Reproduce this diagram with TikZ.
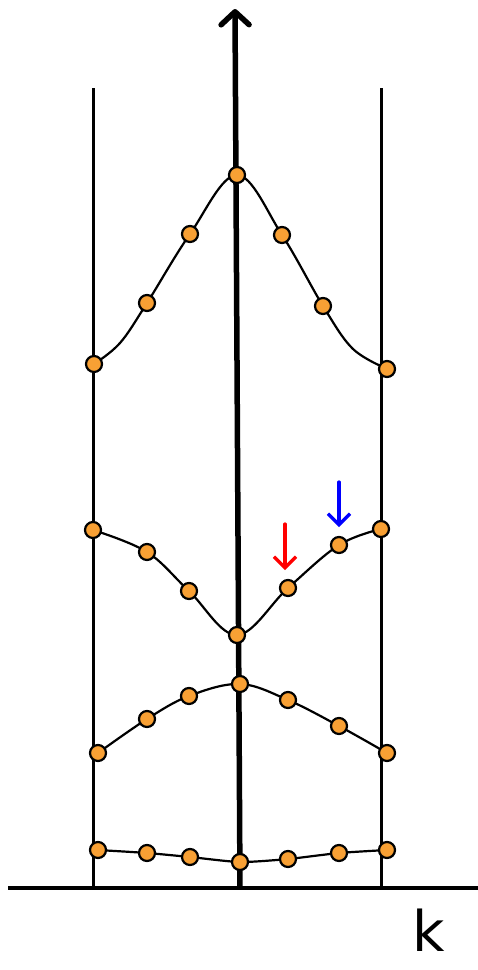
\documentclass[tikz,border=0pt]{standalone}
\usepackage{fontspec}
\newfontfamily\klabel{DejaVu Sans}
\usetikzlibrary{arrows.meta}
\definecolor{dotorange}{RGB}{248,160,52}
\tikzset{
  dot/.style={circle,draw=black,line width=2.2pt,fill=dotorange,inner sep=0pt,minimum size=16pt},
  band/.style={line width=2.2pt,smooth,tension=0.6},
  zone/.style={line width=3pt},
  marker/.style={line width=3.2pt,-{Straight Barb[length=11pt,width=22pt,line width=3.2pt]}},
}
\begin{document}
\begin{tikzpicture}[x=1pt,y=-1pt,line cap=round]
\useasboundingbox (0,0) rectangle (478,970);
% zone boundaries and axes
\coordinate (lt) at (93,88); \coordinate (lb) at (93,888);
\coordinate (rt) at (381,88); \coordinate (rb) at (381,888);
\coordinate (hx0) at (8,888); \coordinate (hx1) at (478,888);
\coordinate (ax0) at (240,888); \coordinate (ax1) at (235,9);
\draw[zone,line cap=butt] (lt) -- (lb);
\draw[zone,line cap=butt] (rt) -- (rb);
\draw[line width=4pt,line cap=butt] (hx0) -- (hx1);
\draw[line width=5.5pt,line cap=butt,-{Straight Barb[length=13pt,width=28pt,line width=5.5pt,round]}] (ax0) -- (ax1);
% band 4
\coordinate (d1) at (94,364); \coordinate (d2) at (147,303); \coordinate (d3) at (190,234);
\coordinate (d4) at (237,175); \coordinate (d5) at (282,235); \coordinate (d6) at (323,306);
\coordinate (d7) at (387,369);
\draw[band] plot coordinates {(d1) (120,343) (d2) (d3) (d4) (d5) (d6) (352,348) (383,367)};
% band 3
\coordinate (c1) at (93,530); \coordinate (c2) at (147,552); \coordinate (c3) at (189,591);
\coordinate (c4) at (237,635); \coordinate (c5) at (288,588); \coordinate (c6) at (339,545);
\coordinate (c7) at (381,529);
\draw[band] plot coordinates {(c1) (c2) (c3) (c4) (c5) (c6) (c7)};
% band 2
\coordinate (b1) at (98,753); \coordinate (b2) at (147,719); \coordinate (b3) at (189,696);
\coordinate (b4) at (240,684); \coordinate (b5) at (288,700); \coordinate (b6) at (339,726);
\coordinate (b7) at (387,753);
\draw[band] plot coordinates {(b1) (b2) (b3) (b4) (b5) (b6) (b7)};
% band 1
\coordinate (a1) at (98,850); \coordinate (a2) at (147,853); \coordinate (a3) at (190,857);
\coordinate (a4) at (240,862); \coordinate (a5) at (288,859); \coordinate (a6) at (339,853);
\coordinate (a7) at (387,850);
\draw[band,tension=0.4] plot coordinates {(a1) (a2) (a3) (a4) (a5) (a6) (a7)};
% dots
\foreach \n in {a,b,c,d}{
  \foreach \i in {1,...,7}{
    \node[dot] (n\n\i) at (\n\i) {};
  }
}
% markers
\coordinate (r0) at (285,524); \coordinate (r1) at (285,570);
\coordinate (u0) at (339,482); \coordinate (u1) at (339,527);
\draw[marker,red] (r0) -- (r1);
\draw[marker,blue] (u0) -- (u1);
% label
\node[font=\klabel\fontsize{56}{56}\selectfont,inner sep=0pt,anchor=center] (k) at (429,930) {k};
\end{tikzpicture}
\end{document}
